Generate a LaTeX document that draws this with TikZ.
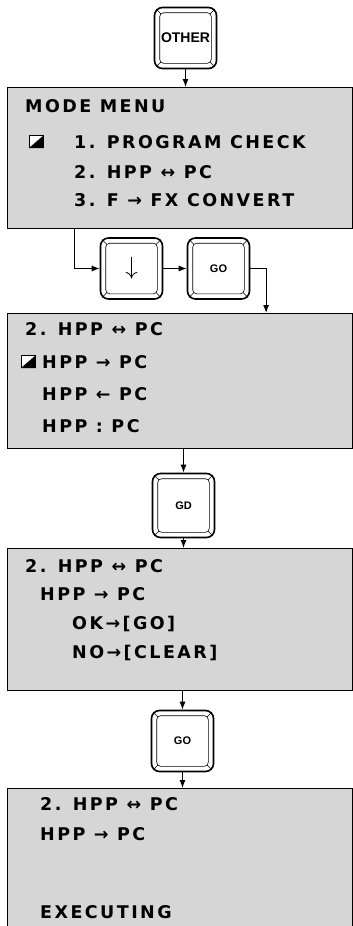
\documentclass[tikz,border=0pt]{standalone}
\usepackage{fontspec}
\usetikzlibrary{arrows.meta}
\newfontfamily\lcdfont{DejaVu Sans}[LetterSpace=14]
\newfontfamily\capfont{Liberation Sans}
\newcommand\scrtxt{\lcdfont\bfseries\fontsize{17.5}{17.5}\selectfont}
\newcommand\captxt{\capfont\bfseries\fontsize{14}{14}\selectfont}
\newcommand\capsmall{\capfont\bfseries\fontsize{11}{11}\selectfont}
\begin{document}
\begin{tikzpicture}[x=1pt,y=-1pt]
		\tikzstyle{every node}+=[inner sep=0pt]
		\tikzstyle{screen}=[draw, line width=1.1pt, fill=black!16, anchor=north west, minimum width=344.5pt]
		\tikzstyle{keycap}=[draw, line width=1.6pt, rounded corners=8pt, fill=white, minimum width=62pt, minimum height=61pt, font=\captxt]
		\tikzstyle{row}=[anchor=base west, font=\scrtxt]
		\tikzstyle{cursorbox}=[draw, line width=0.8pt, fill=white, anchor=south west, minimum width=14pt, minimum height=12pt]
		\tikzstyle{arr}=[line width=1pt, -{Latex[length=8pt,width=6pt]}]
		\useasboundingbox (0,0) rectangle (353,926);
		\clip (0,0) rectangle (353,926);
		\node (other) [keycap] at (185.5,38) {OTHER};
		\node (down) [keycap, font=\fontsize{24}{24}\selectfont] at (131.5,268.5) {$\downarrow$};
		\node (go) [keycap, font=\capsmall] at (218.5,268.5) {GO};
		\node (gd) [keycap, font=\capsmall, minimum height=64pt] at (183.5,505.5) {GD};
		\node (gofinal) [keycap, font=\capsmall] at (182.5,741) {GO};
		\foreach \k in {other,down,go,gd,gofinal} {
			\draw [line width=0.6pt, rounded corners=4pt] ([shift={(6pt,6pt)}]\k.south west) rectangle ([shift={(-6pt,-6pt)}]\k.north east);
			\foreach \c/\sx/\sy in {south west/1/1, south east/-1/1, north east/-1/-1, north west/1/-1}
				\draw [line width=0.6pt] ([shift={(\sx*2.4pt,\sy*2.4pt)}]\k.\c) -- ([shift={(\sx*7.2pt,\sy*7.2pt)}]\k.\c);
		}
		\node (menu) [screen, minimum height=141pt] at (7,87) {};
		\node (menurow1) [row] at (25,112) {MODE MENU};
		\node (menucur) [cursorbox] at (29,148) {};
		\node (menurow2) [row] at (74,148) {1. PROGRAM CHECK};
		\node (menurow3) [row] at (74,178) {2. HPP ↔ PC};
		\node (menurow4) [row] at (74,206) {3. F → FX CONVERT};
		\node (modesel) [screen, minimum height=135pt] at (7,313) {};
		\node (selrow1) [row] at (25,335) {2. HPP ↔ PC};
		\node (selcur) [cursorbox] at (21,368) {};
		\node (selrow2) [row] at (42,368) {HPP → PC};
		\node (selrow3) [row] at (42,400) {HPP ← PC};
		\node (selrow4) [row] at (42,432) {HPP : PC};
		\node (confirm) [screen, minimum height=142pt] at (7,548) {};
		\node (confrow1) [row] at (25,572) {2. HPP ↔ PC};
		\node (confrow2) [row] at (40,600) {HPP → PC};
		\node (confrow3) [row] at (72,629) {OK→[GO]};
		\node (confrow4) [row] at (72,658) {NO→[CLEAR]};
		\node (exec) [screen, minimum height=150pt] at (7,788) {};
		\node (execrow1) [row] at (40,810) {2. HPP ↔ PC};
		\node (execrow2) [row] at (40,840) {HPP → PC};
		\node (execrow3) [row] at (40,918) {EXECUTING};
		\foreach \q in {menucur,selcur}
			\fill (\q.south west) -- (\q.south east) -- (\q.north east) -- cycle;
		\draw [arr] (other.south) -- (other.south |- menu.north);
		\draw [arr] ([xshift=67pt]menu.south west) |- (down.west);
		\draw [arr] (down.east) -- (go.west);
		\draw [arr] (go.east) -| ([xshift=-86.5pt]modesel.north east);
		\draw [arr] (gd.north |- modesel.south) -- (gd.north);
		\draw [arr] (gd.south) -- (gd.south |- confirm.north);
		\draw [arr] (gofinal.north |- confirm.south) -- (gofinal.north);
		\draw [arr] (gofinal.south) -- (gofinal.south |- exec.north);
\end{tikzpicture}
\end{document}
